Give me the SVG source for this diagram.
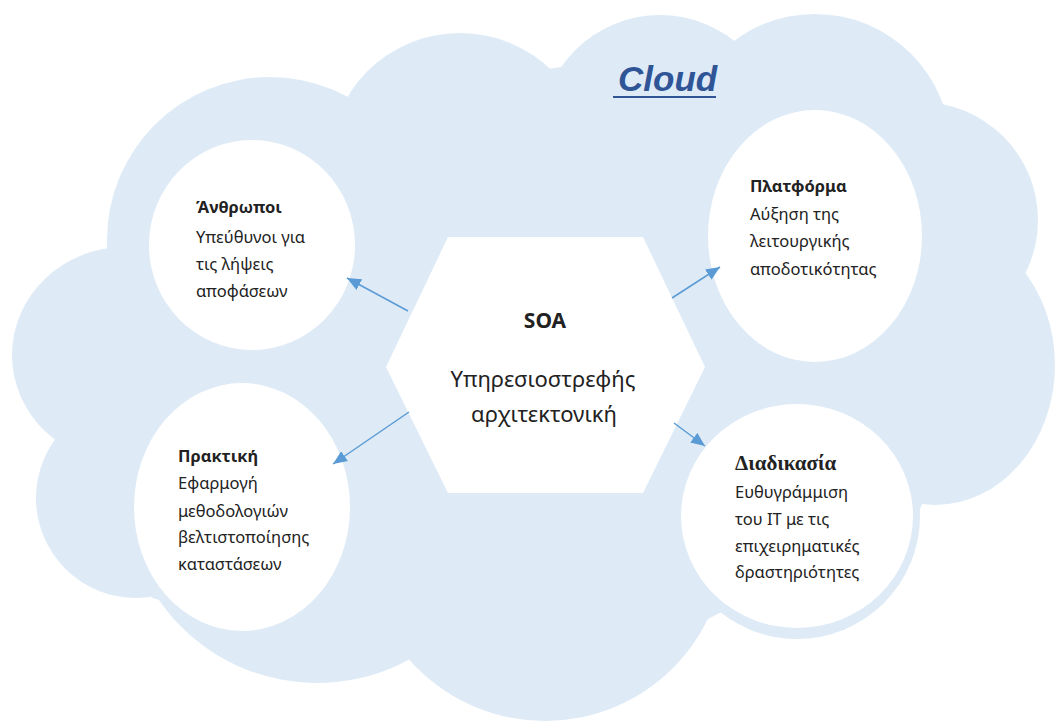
<svg xmlns="http://www.w3.org/2000/svg" width="1061" height="722" viewBox="0 0 1061 722">
<style>
.cloud{fill:#deebf7}
.node{fill:#ffffff}
.t{font-family:"Noto Sans","Open Sans",sans-serif;font-size:16.5px;fill:#222222}
.b{font-weight:bold}
.conn{stroke:#5b9bd5;stroke-width:1.5;fill:none}
</style>
<defs>
<marker id="ah" viewBox="0 0 14 12" refX="14" refY="6" markerWidth="14" markerHeight="12" markerUnits="userSpaceOnUse" orient="auto">
<path d="M0,0 L14,6 L0,12 z" fill="#5b9bd5"/>
</marker>
</defs>
<rect width="1061" height="722" fill="#ffffff"/>
<g id="cloud">
<polygon class="cloud" points="107,250 350,97 561,67 728,43 943,105 1028,267 920,509 708,619 410,659 152,598 62,433"/>
<circle class="cloud" cx="270" cy="240" r="163"/>
<circle class="cloud" cx="460" cy="164" r="131"/>
<circle class="cloud" cx="660" cy="135" r="120"/>
<circle class="cloud" cx="815" cy="150" r="136"/>
<circle class="cloud" cx="920" cy="220" r="118"/>
<ellipse class="cloud" cx="935" cy="365" rx="120" ry="140"/>
<circle class="cloud" cx="797" cy="516" r="123"/>
<circle class="cloud" cx="545" cy="540" r="181"/>
<circle class="cloud" cx="317" cy="491" r="192"/>
<circle class="cloud" cx="136" cy="498" r="100"/>
<ellipse class="cloud" cx="125" cy="355" rx="113" ry="108"/>
<text x="618" y="91" font-family="'Liberation Sans',Arial,sans-serif" font-size="35" font-weight="bold" font-style="italic" fill="#2f5597">Cloud</text>
<line x1="613" y1="97" x2="716" y2="97" stroke="#2f5597" stroke-width="2"/>
</g>
<g id="soa">
<polygon class="node" points="448,237 643,237 705,367 643,493 448,493 386,367"/>
<text x="545" y="328" text-anchor="middle" class="t b" style="font-size:21px">SOA</text>
<text x="543" y="387" text-anchor="middle" class="t" style="font-size:22px">Υπηρεσιοστρεφής</text>
<text x="544" y="422" text-anchor="middle" class="t" style="font-size:22px">αρχιτεκτονική</text>
</g>
<g id="anthropoi">
<ellipse class="node" cx="252" cy="245" rx="103" ry="105"/>
<text x="196" y="213" class="t b">Άνθρωποι</text>
<text x="196" y="243" class="t">Υπεύθυνοι για</text>
<text x="196" y="270" class="t">τις λήψεις</text>
<text x="196" y="297" class="t">αποφάσεων</text>
</g>
<g id="platforma">
<ellipse class="node" cx="815" cy="236" rx="107" ry="126"/>
<text x="750" y="192" class="t b">Πλατφόρμα</text>
<text x="750" y="220" class="t">Αύξηση της</text>
<text x="750" y="247" class="t">λειτουργικής</text>
<text x="750" y="275" class="t">αποδοτικότητας</text>
</g>
<g id="praktiki">
<ellipse class="node" cx="242" cy="507" rx="108" ry="124"/>
<text x="178" y="462" class="t b">Πρακτική</text>
<text x="178" y="489" class="t">Εφαρμογή</text>
<text x="178" y="517" class="t">μεθοδολογιών</text>
<text x="178" y="543" class="t">βελτιστοποίησης</text>
<text x="178" y="570" class="t">καταστάσεων</text>
</g>
<g id="diadikasia">
<ellipse class="node" cx="797" cy="516" rx="116" ry="112"/>
<text x="735" y="470" font-family="'Liberation Serif','DejaVu Serif',serif" font-size="21" font-weight="bold" fill="#222222">Διαδικασία</text>
<text x="735" y="498" class="t">Ευθυγράμμιση</text>
<text x="735" y="525" class="t">του ΙΤ με τις</text>
<text x="735" y="552" class="t">επιχειρηματικές</text>
<text x="735" y="578" class="t">δραστηριότητες</text>
</g>
<g id="connectors">
<line class="conn" x1="408" y1="311" x2="347" y2="278" marker-end="url(#ah)"/>
<line class="conn" x1="672" y1="298" x2="720" y2="267" marker-end="url(#ah)"/>
<line class="conn" x1="409" y1="412" x2="333" y2="464" marker-end="url(#ah)"/>
<line class="conn" x1="674" y1="423" x2="705" y2="446" marker-end="url(#ah)"/>
</g>
</svg>
